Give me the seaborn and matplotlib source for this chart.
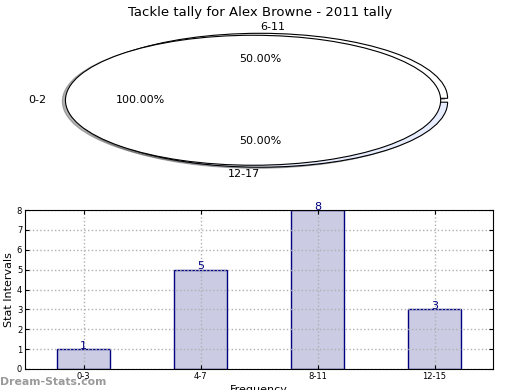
import seaborn as sns
import matplotlib.pyplot as plt
import pandas as pd
import numpy as np

# Pie data: two overlaid pies, as in the original chart
pie_outer_labels = ['6-11', '12-17']
pie_outer_values = [1, 1]
pie_inner_labels = ['0-2']
pie_inner_values = [1]

# Bar data
bar_labels = ['0-3', '4-7', '8-11', '12-15']
bar_values = [1, 5, 8, 3]

plt.rcParams['font.family'] = ['DejaVu Sans']

fig = plt.figure(figsize=(5.2, 3.9), dpi=100)

# --- pie (squashed into an ellipse) ---
ax1 = fig.add_axes([25.5 / 520, 1 - 181.5 / 390, 469 / 520, 162.5 / 390])
wp = {'edgecolor': 'black', 'linewidth': 0.8}
shad = {'ox': -0.012, 'oy': -0.012, 'shade': 0.6}
_, outer_txt, _ = ax1.pie(pie_outer_values, labels=pie_outer_labels,
                          colors=['white', '#e8eeff'], explode=[0.03, 0.03],
                          radius=1.0, shadow=shad, autopct='%.2f%%',
                          startangle=0, wedgeprops=wp, textprops={'fontsize': 8})
ax1.pie(pie_inner_values, labels=pie_inner_labels, colors=['white'],
        explode=[0.037], radius=1.0, shadow=shad, autopct='%.2f%%',
        startangle=0, wedgeprops=wp, textprops={'fontsize': 8})
outer_txt[0].set_ha('left')
outer_txt[1].set_ha('right')
ax1.set_aspect('auto')
ax1.set_xlim(-1.25, 1.25)
ax1.set_ylim(-1.25, 1.25)
ax1.set_title('Tackle tally for Alex Browne - 2011 tally', fontsize=9.5, pad=0)

# --- bar chart ---
ax2 = fig.add_axes([25 / 520, 1 - 369 / 390, 468 / 520, 159 / 390])
df = pd.DataFrame({'interval': bar_labels, 'count': bar_values})
sns.barplot(data=df, x='interval', y='count', color='#cbcbe3', saturation=1,
            width=0.45, edgecolor='navy', linewidth=1, ax=ax2)
for i, v in enumerate(bar_values):
    ax2.text(i, v - 0.08, str(v), ha='center', va='bottom', color='navy',
             fontsize=8, clip_on=False)

ax2.set_xlim(-0.5, 3.5)
ax2.set_ylim(0, 8)
ax2.set_yticks(range(0, 9))
ax2.grid(True, linestyle=':', color='#b0b0b0', linewidth=1)
ax2.set_axisbelow('line')
ax2.tick_params(direction='in', right=True, top=True, length=3, labelsize=6,
                pad=2)
for s in ax2.spines.values():
    s.set_linewidth(0.8)
ax2.set_xlabel('Frequency', fontsize=8, labelpad=3)
ax2.set_ylabel('Stat Intervals', fontsize=8, labelpad=2)

# watermark
fig.text(0.0, 5 / 390, 'Dream-Stats.com', color='#888888', fontsize=7.8,
         fontweight='bold', alpha=0.85)

plt.savefig('out.png', dpi=100)
